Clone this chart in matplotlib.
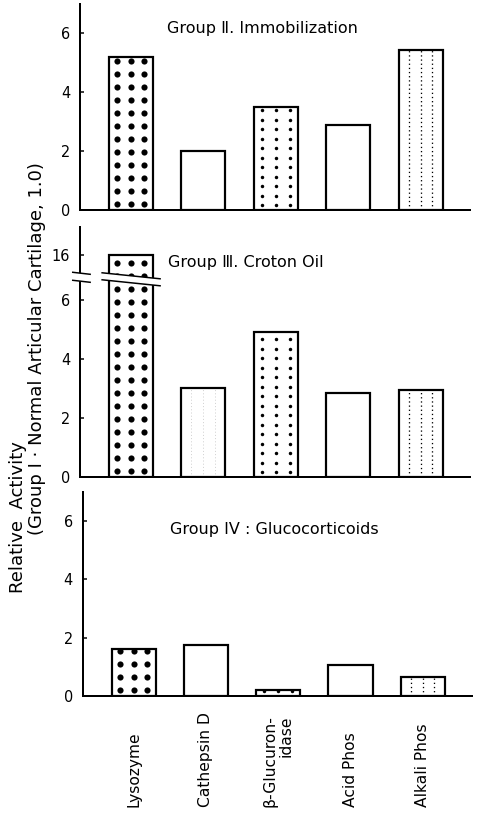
import numpy as np
import matplotlib
matplotlib.use('Agg')
import matplotlib.pyplot as plt
from matplotlib.patches import Polygon
from matplotlib.transforms import blended_transform_factory

plt.rcParams['font.family'] = ['DejaVu Sans']

# data
enzymes = ['Lysozyme', 'Cathepsin D', 'β-Glucuron-\nidase', 'Acid Phos', 'Alkali Phos']
group2 = [5.2, 2.0, 3.5, 2.9, 5.45]      # immobilization
group3 = [16.0, 3.0, 4.9, 2.85, 2.95]    # croton oil
group4 = [1.6, 1.75, 0.2, 1.05, 0.65]    # glucocorticoids
titles = ['Group Ⅱ. Immobilization', 'Group Ⅲ. Croton Oil', 'Group IV : Glucocorticoids']
yticks = [0, 2, 4, 6]
yticks_broken = [0, 2, 4, 6, 16]
fills = ['bigdots', 'plain', 'dots', 'plain', 'vlines']

# broken y scale for the croton oil panel
BRK = 6.8
K = 0.079

def fwd(y):
    y = np.asarray(y, float)
    return np.where(y <= BRK, y, BRK + (y - BRK) * K)

def inv(y):
    y = np.asarray(y, float)
    return np.where(y <= BRK, y, BRK + (y - BRK) / K)


def dot_fill(ax, bar, step_x, step_y, size):
    # square grid of dots, 3 columns, spacing given in pixels
    (x0, y0), (x1, y1) = ax.transData.transform(
        [(bar.get_x(), 0), (bar.get_x() + bar.get_width(), bar.get_height())])
    cx = (x0 + x1) / 2
    xs = cx + step_x * np.array([-1, 0, 1])
    ys = np.arange(y0 + step_y / 2, y1 + step_y, step_y)
    gx, gy = np.meshgrid(xs, ys)
    pts = ax.transData.inverted().transform(np.column_stack([gx.ravel(), gy.ravel()]))
    sc = ax.scatter(pts[:, 0], pts[:, 1], s=size, color='black', linewidths=0, zorder=2)
    sc.set_clip_path(bar)


def line_fill(ax, bar, step_x, color='black', lw=1.3):
    (x0, y0), (x1, y1) = ax.transData.transform(
        [(bar.get_x(), 0), (bar.get_x() + bar.get_width(), bar.get_height())])
    cx = (x0 + x1) / 2
    xs = cx + step_x * np.array([-1, 0, 1])
    pts = ax.transData.inverted().transform(np.column_stack([xs, np.full(3, y0)]))
    ln = ax.vlines(pts[:, 0], 0, bar.get_height(), colors=color, linewidth=lw,
                   linestyles=(0, (1, 2.2)), zorder=2)
    ln.set_clip_path(bar)


def break_band(ax, x0, x1, y, gap=7, drop=5):
    # white slanted band with two black edges, gap/drop in pixels
    p0 = ax.transData.transform([(x0, y)])[0]
    p1 = ax.transData.transform([(x1, y)])[0]
    top = [(p0[0], p0[1] + gap / 2), (p1[0], p1[1] + gap / 2 - drop)]
    bot = [(p0[0], p0[1] - gap / 2), (p1[0], p1[1] - gap / 2 - drop)]
    tinv = ax.transData.inverted()
    top_d = tinv.transform(top)
    bot_d = tinv.transform(bot)
    ax.add_patch(Polygon(np.vstack([top_d, bot_d[::-1]]), closed=True, facecolor='white',
                         edgecolor='none', zorder=5, clip_on=False))
    for seg in (top_d, bot_d):
        ax.plot(seg[:, 0], seg[:, 1], color='black', lw=1.5, zorder=6, clip_on=False)


fig = plt.figure(figsize=(479 / 72, 817 / 72), dpi=72)
ax1 = fig.add_axes([80 / 479, 1 - 210 / 817, 390 / 479, 206 / 817])
ax2 = fig.add_axes([80 / 479, 1 - 477 / 817, 390 / 479, 250 / 817])
ax3 = fig.add_axes([83 / 479, 1 - 696 / 817, 389 / 479, 204 / 817])
axes = [ax1, ax2, ax3]
x = np.arange(len(enzymes))

ax2.set_yscale('function', functions=(fwd, inv))

for ax, vals, title in zip(axes, [group2, group3, group4], titles):
    ax.spines[['top', 'right']].set_visible(False)
    ax.spines[['left', 'bottom']].set_linewidth(2)
    ax.tick_params(axis='y', direction='in', length=4, width=1.5, pad=10, labelsize=14.5)
    ax.tick_params(axis='x', bottom=False, labelbottom=False)
    ax.set_xlim(-0.7, 4.68)
    if ax is ax2:
        ax.set_ylim(0, float(inv(8.47)))
        ax.set_yticks(yticks_broken)
        ax.set_yticklabels([str(t) for t in yticks_broken])
    else:
        ax.set_ylim(0, 7.0)
        ax.set_yticks(yticks)
    bars = ax.bar(x, vals, width=0.61, facecolor='none', edgecolor='black',
                  linewidth=2.2, zorder=3)
    for bar, f in zip(bars, fills):
        if f == 'bigdots':
            dot_fill(ax, bar, 13.5, 13, 38)
        elif f == 'dots':
            dot_fill(ax, bar, 14, 9.5, 12)
        elif f == 'vlines':
            line_fill(ax, bar, 11.5)
    if ax is ax2:
        # faint stipple in cathepsin bar
        line_fill(ax, bars[1], 12, color='0.82', lw=1.0)
        b = bars[0]
        break_band(ax, b.get_x() - 0.09, b.get_x() + b.get_width() + 0.1, BRK, gap=7, drop=6)
        break_band(ax, -0.8, -0.56, BRK, gap=8, drop=2)

ax1.text(0.223, 0.879, titles[0], transform=ax1.transAxes, fontsize=16, va='center')
ax2.text(0.226, 0.856, titles[1], transform=ax2.transAxes, fontsize=16, va='center')
ax3.text(0.224, 0.814, titles[2], transform=ax3.transAxes, fontsize=16, va='center')

# enzyme names under the bottom panel
tr = blended_transform_factory(ax3.transData, fig.transFigure)
for xi, name in zip(x, enzymes):
    ax3.text(xi, 10 / 817, name, transform=tr, rotation=90, ha='center', va='bottom',
             multialignment='right', linespacing=1.05, fontsize=15.5)

fig.text(18 / 479, 1 - 517 / 817, 'Relative  Activity', rotation=90,
         ha='center', va='center', fontsize=18)
fig.text(37 / 479, 1 - 349 / 817, '(Group I · Normal Articular Cartilage, 1.0)',
         rotation=90, ha='center', va='center', fontsize=18)

fig.savefig('out.png', dpi=72)
